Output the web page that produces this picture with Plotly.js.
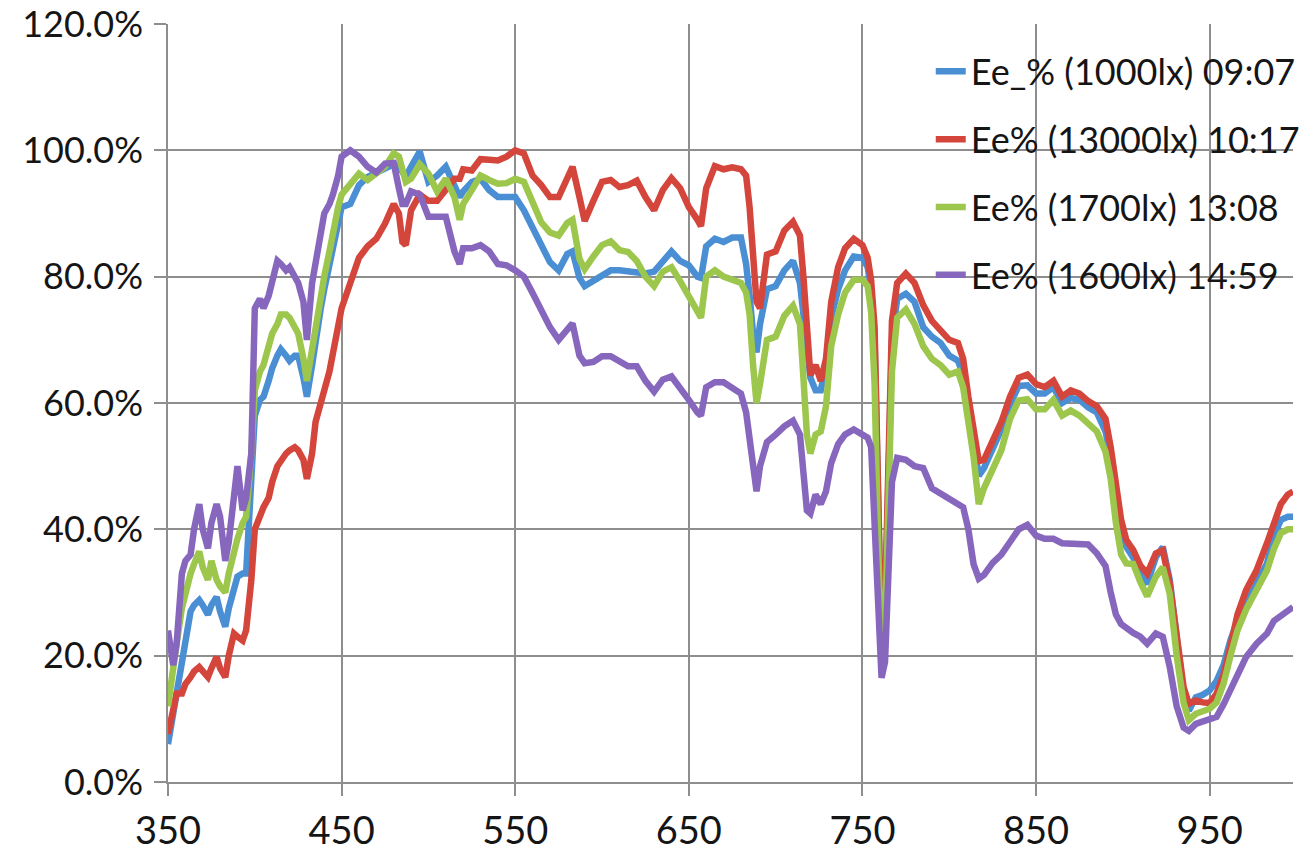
<!DOCTYPE html>
<html>
<head>
<meta charset="utf-8">
<script src="https://cdn.plot.ly/plotly-3.0.1.min.js"></script>
<style>
html,body{margin:0;padding:0;background:#ffffff;}
#chart{width:1308px;height:853px;}
</style>
</head>
<body>
<div id="chart"></div>
<script>
// Wavelength (nm)
const wavelength = [
  350,353,355,358,360,363,365,368,370,373,375,378,380,383,385,388,390,393,395,398,400,403,405,408,410,413,415,418,420,423,425,428,430,433,435,438,440,443,445,448,450,
  455,460,465,470,475,480,483,485,487,490,495,500,505,510,515,518,520,525,530,535,540,545,550,
  555,560,565,570,575,580,583,587,590,595,600,605,610,615,620,625,630,635,640,645,650,
  655,657,660,665,670,675,680,683,685,687,689,691,695,700,705,710,714,716,718,720,723,726,729,732,736,740,745,750,
  753,755,757,759,761,763,765,767,770,775,780,785,790,795,800,805,808,811,814,817,820,825,830,835,840,845,850,
  855,860,865,870,875,880,885,890,893,896,899,902,906,910,914,919,923,927,931,935,938,942,946,950,954,958,962,966,971,977,983,987,991,995,998
];

// Ee_% (1000lx) 09:07
const ee1000 = [
  6,11,14,19,23,27,28,28.8,28,26.5,28,29.3,27,24.6,27.5,31,32.5,33,33,48,58,60.5,61,63.5,65.5,67.5,68.5,67.5,66.7,67.5,67.5,64,61,66,70,75,78,82,85,88.5,91,
  91.5,94.5,95.8,96.5,97.2,97.8,97.4,96.5,95.8,97.4,99.8,95,96,97.4,94,92.6,93.5,95,95.5,93.7,92.6,92.6,92.6,
  90.5,87.9,85,82.3,81,83.6,84,79.8,78.5,79.3,80.3,81,81,80.8,80.5,80.5,80.8,82.5,84,82.5,81.8,
  80,79.8,84.8,86,85.5,86.2,86.2,82,77,71,68,72.5,78,78.5,81,82.5,79,73.5,67,64,62,62,66,73.5,78,81,83.2,83,
  81.5,78,70,43,20,26,52,70,76.5,77.3,76,72,70.5,69.5,67.5,66.7,64.5,59.5,53.5,48.5,49.7,52.5,55.8,59.8,62.7,62.8,61.5,
  61.5,62.5,60,60.8,60.5,59.3,58.5,55.5,51.5,46,40.5,37.2,35.5,32.8,31.4,35.6,37.2,32,23,14,11.3,13.4,13.8,14.5,16,18.5,22.5,25.5,28.3,31.4,34.6,39,41.5,42,42
];

// Ee% (13000lx) 10:17
const ee13000 = [
  7.6,12,14,14,15.5,16.6,17.5,18.2,17.5,16.6,18,19.8,18,16.6,20,23.5,23,22.4,24,32,40,42.5,43.5,45,47.5,50,51,52,52.5,53,52.5,51,48,52,57,60.5,62,65,68,72,75,
  79,83,84.8,86,88.4,91.5,90,85.5,85,90.5,93,92,92,93.7,95.5,95.5,97,96.8,98.6,98.5,98.4,99,100,
  99.5,96,94.5,92.6,92.6,95.5,97.4,92.6,88.8,92,95,95.3,94.2,94.5,95.2,92.6,90.5,93.7,95.6,94,91,
  89,88,94,97.5,97,97.3,97,96,91,84,76,75,83.5,84,87.3,88.7,86.5,80,70,64.4,66,63.5,67,76,81.5,84.5,86,85,
  83,79.4,72,45,21,28,55,73,79,80.5,79,75.5,73,71.5,70,69.5,67,61,56,50.8,51,54,57,61,64,64.5,63,
  62.5,63.5,61,62,61.5,60.3,59.5,57.5,53,48,41.5,38.3,36.7,34.3,33,36.2,36.7,31.4,23,15,12.4,12.9,12.6,12.5,14,17,21.5,26.5,30.4,33.5,37.8,41.3,44,45.5,46
];

// Ee% (1700lx) 13:08
const ee1700 = [
  12,19,22,27.5,30,33,34.5,36.5,34,32,35,32,31,30,33,36.5,38.5,41,42,52,62,65,66,69,71,72.5,74,74,73.5,72,71,67,63.5,68.5,72,77.5,80,84,87,91,93,
  94.5,96.3,95.3,96.2,97.4,99.5,99,97,95,95.5,97.8,96.3,93.5,95.5,92.6,89,91.5,93.7,96,95.3,94.7,94.8,95.5,
  95,91.6,88.6,87,86.5,88.5,89,82.8,81.2,83.2,85,85.6,84.2,83.9,82.5,80,78.5,80.8,81.5,79.3,77,
  74.5,73.5,80,81,80,79.5,79,77.5,74,66,60,63,70,70.5,73.8,75.4,72.5,64,55,52,55,55.5,59.5,69,74,77.5,79.5,79.5,
  78.5,74.4,63,38,19,24,48,65,73.5,74.8,72.5,69,67,66,64.5,65,62.5,57,51.5,44,46.5,49.5,52.5,57.5,60.4,60.6,59,
  59,60.5,58,58.8,58,56.6,55.5,52.3,48,41,36,34.6,34.5,31.7,29.4,32.5,34,29.8,20,12.5,9.8,10.8,11.1,11.6,12.6,15.6,20,24,27.3,30.4,33.5,36.9,39.4,40,40
];

// Ee% (1600lx) 14:59
const ee1600 = [
  24,18.5,22,33,35,36,40,44,40,37,41,44,42,35,38,45,50,43,45,52,75,76.5,75,77,79.5,82.5,82,81,81.5,80,79,76,70,79,82,86,90,91.5,93,96,99,
  100,99,97.4,96.5,97.9,98,94,91.5,91.5,93.5,93,89.5,89.5,89.5,84,82,84.5,84.5,85,84,82,81.8,81,
  80,77.4,74.5,72,70,71.5,72.6,67.5,66.3,66.5,67.4,67.4,66.5,65.8,65.8,63.5,61.8,63.7,64.2,62.5,60.5,
  58.5,58,62.5,63.3,63.3,62.5,61.5,58.5,54,49,46,50,53.8,55,56.3,57.2,55,49,43,42.5,45.5,44,46,50.5,53.5,55,55.8,55,
  54.5,53,40,23.5,16.5,19,34,47.5,51.3,51,50,49.7,46.5,45.6,44.8,44,43.5,40,34.5,32.2,32.8,34.7,36,38,40,40.7,39,
  38.5,38.5,37.8,37.8,37.8,37.6,36.2,34.2,30,26.5,25,24.3,23.6,23,21.9,23.5,23,18.2,12,8.6,8.1,9.2,9.5,9.8,10.3,12.3,14.5,17,19.8,21.9,23.5,25.5,26.4,27,27.7
];

const seriesNames = [
  'Ee_% (1000lx) 09:07',
  'Ee% (13000lx) 10:17',
  'Ee% (1700lx) 13:08',
  'Ee% (1600lx) 14:59'
];
const seriesValues = [ee1000, ee13000, ee1700, ee1600];
const seriesColors = ['#4a8fd4', '#d4453c', '#9cc64c', '#8767bd'];

const traces = seriesValues.map((vals, i) => ({
  type: 'scatter',
  mode: 'lines',
  x: wavelength,
  y: vals,
  name: seriesNames[i],
  legendgroup: 'g' + i,
  line: {color: seriesColors[i], width: 6.5, shape: 'linear'},
  hoverinfo: 'x+y+name'
}));

const gridCol = '#8e8e8e';
const layout = {
  width: 1308,
  height: 853,
  margin: {l: 168, r: 15, t: 24, b: 71, pad: 0, autoexpand: false},
  paper_bgcolor: '#ffffff',
  plot_bgcolor: '#ffffff',
  font: {family: 'Lato, "Open Sans", "DejaVu Sans", sans-serif', size: 37, color: '#151515'},
  showlegend: true,
  xaxis: {
    range: [350, 998],
    tickmode: 'linear',
    tick0: 350,
    dtick: 100,
    showgrid: true,
    gridcolor: gridCol,
    gridwidth: 1.5,
    showline: true,
    linecolor: gridCol,
    linewidth: 1.5,
    ticks: 'outside',
    ticklen: 12,
    tickwidth: 1.5,
    tickcolor: gridCol,
    ticklabelstandoff: 3,
    ticklabeloverflow: 'allow',
    zeroline: false,
    automargin: false,
    tickfont: {size: 38}
  },
  yaxis: {
    range: [0, 120],
    tickmode: 'linear',
    tick0: 0,
    dtick: 20,
    tickformat: '.1f',
    ticksuffix: '%',
    showgrid: true,
    gridcolor: gridCol,
    gridwidth: 1.5,
    showline: true,
    linecolor: gridCol,
    linewidth: 1.5,
    ticks: 'outside',
    ticklen: 12,
    tickwidth: 1.5,
    tickcolor: gridCol,
    ticklabelstandoff: 4,
    ticklabeloverflow: 'allow',
    zeroline: false,
    automargin: false,
    tickfont: {size: 36}
  },
  legend: {
    x: 0.678,
    y: 0.977,
    xanchor: 'left',
    yanchor: 'top',
    bgcolor: 'rgba(0,0,0,0)',
    borderwidth: 0,
    tracegroupgap: 18,
    traceorder: 'grouped',
    font: {size: 36, color: '#151515'}
  }
};

Plotly.newPlot('chart', traces, layout, {displayModeBar: false, responsive: false});
</script>
</body>
</html>
